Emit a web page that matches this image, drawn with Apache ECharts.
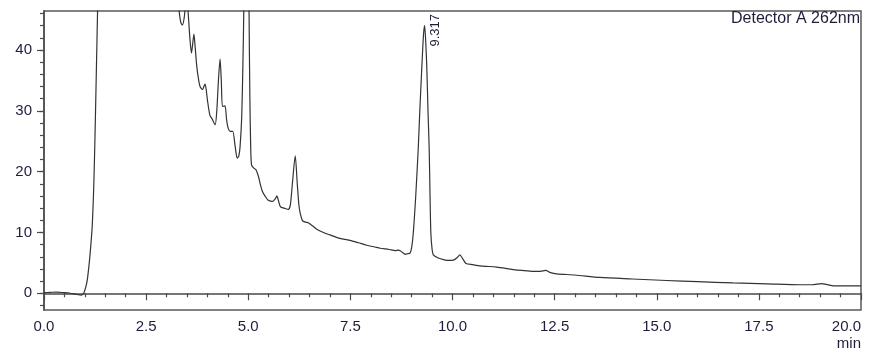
<!DOCTYPE html>
<html>
<head>
<meta charset="utf-8">
<script src="https://cdn.jsdelivr.net/npm/echarts@6/dist/echarts.min.js"></script>
<style>
html,body{margin:0;padding:0;background:#fff;}
#chart{width:885px;height:357px;}
</style>
</head>
<body>
<div id="chart"></div>
<script>
// Retention time (min)
var times = [0.00,0.15,0.31,0.50,0.64,0.80,0.92,0.97,1.00,1.03,1.06,1.10,1.13,1.18,1.22,1.25,1.28,1.31,1.35,1.45,1.60,2.00,2.50,3.00,3.20,3.28,3.31,3.35,3.39,3.43,3.46,3.50,3.53,3.57,3.61,3.64,3.67,3.70,3.74,3.78,3.82,3.88,3.94,3.97,4.00,4.06,4.12,4.19,4.23,4.27,4.31,4.34,4.37,4.43,4.47,4.51,4.56,4.62,4.68,4.73,4.77,4.80,4.84,4.87,4.89,4.92,4.96,5.00,5.02,5.04,5.06,5.08,5.13,5.19,5.25,5.30,5.35,5.42,5.49,5.60,5.66,5.70,5.74,5.79,5.88,5.98,6.03,6.08,6.15,6.20,6.24,6.27,6.33,6.40,6.47,6.53,6.59,6.71,6.84,7.00,7.16,7.33,7.49,7.70,7.90,8.10,8.23,8.45,8.60,8.67,8.72,8.80,8.84,8.90,8.96,9.00,9.04,9.10,9.16,9.20,9.25,9.29,9.317,9.34,9.37,9.40,9.43,9.45,9.47,9.50,9.53,9.65,9.80,9.90,10.04,10.12,10.18,10.24,10.33,10.50,10.67,10.90,11.08,11.30,11.49,11.70,11.98,12.15,12.28,12.40,12.55,13.00,13.61,14.40,15.24,16.00,16.87,17.70,18.51,18.80,19.04,19.15,19.33,20.00];
// Detector signal (mAU)
var signal = [0.1,0.15,0.2,0.1,0.0,-0.2,-0.3,0.0,0.5,1.2,2.2,4.5,6.6,11.0,18,26.3,36,46.0,60,90,120,150,140,100,60,49,46.3,44.5,44.1,45.2,47,48,46,42,39.5,41,42.6,40.5,37.3,35.3,34.0,33.5,34.4,33.5,31.8,29.3,28.6,27.7,30,35,38.5,35,30.7,30.8,28.5,27.1,26.6,26.6,24.1,22.2,22.6,24.1,29,38,46.4,80,110,70,46,32,24,21.1,20.6,20.3,19.2,17.8,16.7,15.9,15.3,15.1,15.5,16.0,15.2,14.2,14.0,13.8,14.5,18,22.6,18,14.5,13.2,11.9,11.7,11.6,11.3,11.0,10.4,10.0,9.6,9.2,8.9,8.7,8.3,7.9,7.6,7.4,7.2,7.0,7.1,7.0,6.6,6.4,6.5,6.6,7.5,9.9,16,23.6,30,37.3,42.5,44.0,42,37.3,30,23.6,16,9.9,7.3,6.3,5.8,5.5,5.4,5.5,5.9,6.3,5.8,4.9,4.7,4.5,4.4,4.3,4.1,3.9,3.75,3.6,3.6,3.75,3.4,3.2,3.0,2.6,2.35,2.1,1.9,1.7,1.55,1.4,1.4,1.6,1.45,1.2,1.2];
// Axis ticks
var xMin = 0, xMax = 20, xStep = 2.5;
var yMin = -2.75, yMax = 46.4;
var yLabelValues = [0, 10, 20, 30, 40];
var yMinorValues = [-2,0,2,4,6,8,10,12,14,16,18,20,22,24,26,28,30,32,34,36,38,40,42,44,46];
// Annotations
var peakTime = 9.317, peakValue = 44.0, peakLabel = '9.317';
var detectorText = 'Detector A 262nm';
var xUnit = 'min';

var lineData = times.map(function (t, i) { return [t, signal[i]]; });
var txtColor = '#1e1e3a';
var axisColor = '#4a4a4a';
var font = 'Liberation Sans, Arial, sans-serif';

var chart = echarts.init(document.getElementById('chart'), null, {renderer: 'canvas'});
chart.setOption({
  animation: false,
  backgroundColor: '#ffffff',
  grid: {left: 44, right: 24, top: 11, bottom: 47, show: true, borderColor: '#5a5a5a', borderWidth: 1.5, backgroundColor: 'transparent'},
  xAxis: {
    type: 'value', min: xMin, max: xMax, interval: xStep,
    axisLine: {show: true, lineStyle: {color: axisColor, width: 1.5}},
    axisTick: {show: true, length: 7, lineStyle: {color: axisColor, width: 1.2}},
    minorTick: {show: true, splitNumber: 5, length: 4, lineStyle: {color: axisColor, width: 1.2}},
    splitLine: {show: false},
    axisLabel: {color: txtColor, fontSize: 15, fontFamily: font, margin: 9, alignMaxLabel: 'right',
                formatter: function (v) { return v.toFixed(1); }}
  },
  yAxis: [{
    type: 'value', min: yMin, max: yMax,
    axisLine: {show: true, lineStyle: {color: axisColor, width: 1.5}},
    axisTick: {show: true, length: 4, customValues: yMinorValues, lineStyle: {color: axisColor, width: 1.2}},
    splitLine: {show: false},
    axisLabel: {color: txtColor, fontSize: 15, fontFamily: font, margin: 12, customValues: yLabelValues}
  }, {
    type: 'value', min: yMin, max: yMax, position: 'left',
    axisLine: {show: false},
    axisTick: {show: true, length: 7, customValues: yLabelValues, lineStyle: {color: axisColor, width: 1.2}},
    splitLine: {show: false},
    axisLabel: {show: false}
  }],
  series: [{
    type: 'line', data: lineData, yAxisIndex: 0, showSymbol: false, symbol: 'none', clip: true,
    smooth: 0.25,
    lineStyle: {color: '#333333', width: 1.2}
  }]
});

var p = chart.convertToPixel({xAxisIndex: 0, yAxisIndex: 0}, [peakTime, peakValue]);
var endPx = chart.convertToPixel({xAxisIndex: 0, yAxisIndex: 0}, [xMax, yMin]);
var topPx = chart.convertToPixel({xAxisIndex: 0, yAxisIndex: 0}, [xMax, yMax]);
chart.setOption({
  graphic: [
    {type: 'text', x: p[0] + 11, y: p[1] + 21, rotation: Math.PI / 2,
     style: {text: peakLabel, fill: txtColor, font: '13px ' + font, textAlign: 'left', textVerticalAlign: 'middle'}},
    {type: 'text', x: topPx[0] - 1, y: topPx[1] + 0,
     style: {text: detectorText, fill: txtColor, font: '16px ' + font, textAlign: 'right', textVerticalAlign: 'top'}},
    {type: 'text', x: endPx[0], y: endPx[1] + 26,
     style: {text: xUnit, fill: txtColor, font: '15px ' + font, textAlign: 'right', textVerticalAlign: 'top'}}
  ]
});
</script>
</body>
</html>
